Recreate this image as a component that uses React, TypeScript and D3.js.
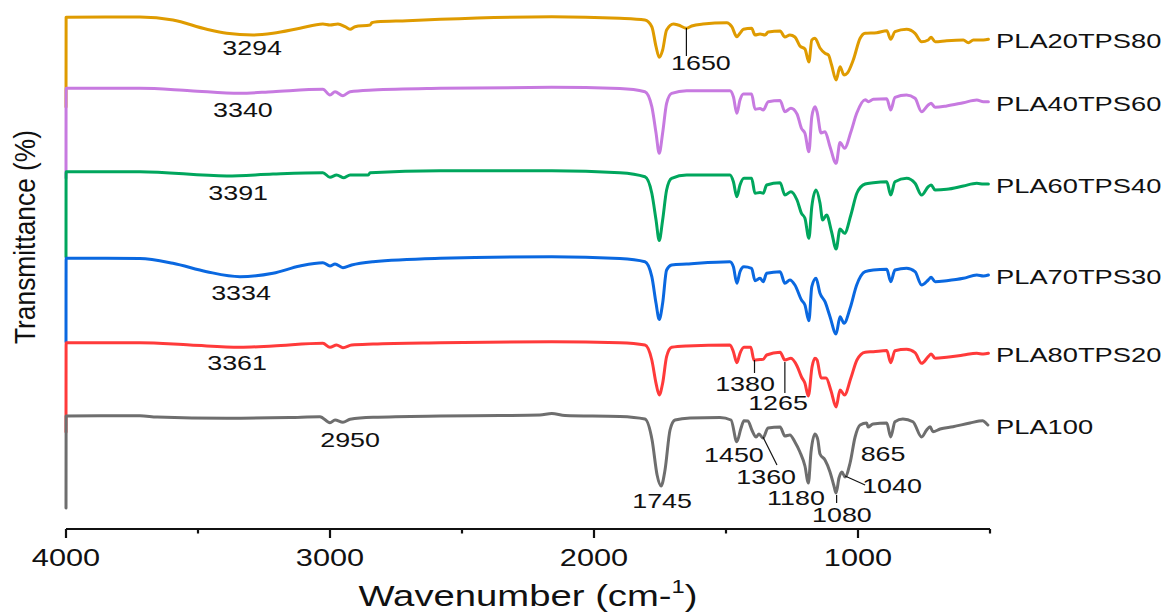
import React from "react";
import * as d3 from "d3";

type Pt = [number, number];

// wavenumber (cm-1), stacked transmittance (offset units)
const pla20tps80: Pt[] = [
  [4000, 401], [3999.6, 490.7], [3850, 491], [3720, 491], [3595, 488], [3467, 478.7], [3391, 474.7],
  [3292, 473], [3216, 474.7], [3114, 479.7], [3027, 484], [3000, 483], [2970, 484],
  [2943, 481.3], [2924, 478.7], [2905, 481.3], [2848, 483], [2841, 485.3], [2822, 486.3],
  [2708, 487.3], [2583, 488.7], [2160, 491.3], [1902, 489.7], [1807, 488], [1781, 481.3],
  [1765, 461.3], [1753, 450.7], [1740, 458], [1725, 478], [1699, 484], [1681, 483],
  [1649, 479.7], [1630, 482], [1587, 484], [1497, 485.3], [1478, 481.3], [1459, 471.3],
  [1447, 474.7], [1434, 478.7], [1403, 479.7], [1390, 473], [1371, 474], [1352, 473],
  [1340, 476], [1295, 477], [1277, 471], [1258, 473], [1239, 471], [1220, 462],
  [1201, 459], [1186, 446], [1175, 468], [1163, 469.7], [1144, 460], [1125, 454.7],
  [1112, 453], [1100, 443], [1083, 428], [1068, 441.3], [1053, 433], [1041, 434.7],
  [1018, 448], [992, 469.7], [973, 474.7], [929, 475.3], [891, 477.3], [876, 468.7],
  [860, 476.3], [816, 478.7], [784, 474.7], [759, 466.3], [734, 468], [723, 470.7],
  [708, 466.3], [664, 467.3], [601, 468], [582, 465.3], [563, 468], [525, 468], [506, 468.7],
];

const pla40tps60: Pt[] = [
  [4000, 330], [3999.6, 419.7], [3720, 419.7], [3530, 417.3], [3341, 414.7], [3216, 416.3],
  [3027, 418.7], [3000, 413], [2981, 416.3], [2951, 412.3], [2924, 416.3], [2837, 418],
  [2583, 419.7], [2160, 420.7], [1902, 419.5], [1807, 416.3], [1781, 401.3], [1765, 375],
  [1753, 354.7], [1740, 375], [1725, 404.7], [1706, 414.7], [1649, 417.3], [1485, 417.3],
  [1472, 411.3], [1459, 394.7], [1447, 408], [1434, 414], [1403, 414], [1390, 398.7],
  [1371, 399.5], [1359, 398], [1340, 406.3], [1295, 407.5], [1277, 396.3], [1254, 399.7],
  [1231, 394], [1214, 379.5], [1201, 374.7], [1186, 356.3], [1175, 391.3], [1163, 401.3],
  [1155, 396], [1140, 375], [1125, 376.3], [1106, 361.3], [1083, 344.7], [1068, 365.5],
  [1051, 359.7], [1027, 376], [1005, 394.7], [973, 408.3], [961, 406.3], [942, 408.7],
  [891, 409.3], [876, 398], [860, 410.7], [816, 413], [784, 409.7], [759, 396.3],
  [734, 403], [723, 404.7], [708, 400.7], [664, 402], [601, 405.3], [550, 408],
  [525, 406.3], [506, 406.3],
];

const pla60tps40: Pt[] = [
  [4000, 251], [3999.6, 336.3], [3720, 336.3], [3391, 332], [3216, 334], [3027, 335.3],
  [3000, 330.7], [2975, 333], [2947, 330.3], [2924, 333], [2855, 333], [2848, 335.3],
  [2583, 337.3], [2160, 337.3], [1902, 335.3], [1807, 331.3], [1781, 314.7], [1765, 288],
  [1753, 267.5], [1740, 288], [1725, 318], [1706, 329.7], [1649, 333], [1485, 333],
  [1472, 326.3], [1459, 311.3], [1447, 323], [1432, 329.7], [1403, 329.7], [1390, 314.7],
  [1371, 315.5], [1359, 314.7], [1346, 323], [1295, 325.3], [1277, 313], [1254, 316.3],
  [1231, 308], [1214, 294.7], [1201, 289.7], [1186, 269.7], [1175, 301.3], [1159, 318],
  [1144, 305], [1134, 288], [1119, 293], [1100, 276], [1083, 259], [1068, 279],
  [1051, 274.7], [1027, 293], [1004, 315], [973, 324], [942, 325.3], [891, 326.3],
  [876, 313], [860, 326.3], [816, 329.7], [784, 324.7], [759, 313], [734, 321.3],
  [723, 323], [708, 318], [664, 318.7], [601, 322], [550, 324.7], [525, 324], [506, 324],
];

const pla70tps30: Pt[] = [
  [4000, 166], [3999.6, 249.7], [3850, 249.7], [3720, 249.5], [3595, 244.7], [3467, 236.3], [3341, 231.3],
  [3216, 234.7], [3114, 242], [3027, 245.3], [3000, 242], [2981, 244], [2951, 240.3],
  [2918, 243], [2837, 246.3], [2583, 249.7], [2160, 251.3], [1902, 249.5], [1807, 246.3],
  [1781, 231.3], [1765, 204.7], [1753, 188.5], [1740, 204.7], [1725, 238], [1706, 243],
  [1649, 244], [1485, 246.3], [1472, 241.3], [1459, 224.7], [1447, 236.3], [1432, 241.3],
  [1403, 239.7], [1390, 227.3], [1371, 229.7], [1359, 226.3], [1346, 234.7], [1295, 236.3],
  [1277, 224.7], [1258, 228], [1239, 223], [1214, 208], [1201, 203], [1186, 187.3],
  [1175, 221.3], [1159, 229.7], [1144, 214.7], [1125, 206.3], [1106, 191.3], [1083, 174],
  [1068, 191.3], [1053, 184.7], [1030, 199.7], [1005, 223], [973, 236.3], [942, 238],
  [891, 238.7], [876, 226.3], [860, 238], [816, 239.7], [784, 236.3], [759, 223],
  [734, 228], [723, 230.7], [708, 226.3], [664, 227.3], [601, 229.7], [550, 233],
  [525, 232], [506, 233],
];

const pla80tps20: Pt[] = [
  [4000, 76], [3999.6, 165.3], [3720, 165.3], [3530, 163], [3341, 160.7], [3216, 162],
  [3027, 164.7], [3000, 160.7], [2975, 163], [2951, 160.3], [2918, 163], [2837, 164],
  [2583, 165.3], [2160, 166.3], [1902, 165.3], [1807, 163], [1781, 148], [1765, 124.7],
  [1753, 113], [1740, 124.7], [1725, 151.3], [1706, 160.7], [1649, 162], [1485, 163],
  [1472, 156.3], [1459, 145.3], [1447, 154.7], [1432, 160.7], [1406, 160.7], [1394, 148],
  [1371, 148.5], [1359, 148.7], [1346, 153], [1295, 155.8], [1277, 148], [1254, 149.7],
  [1231, 142], [1214, 131], [1201, 124.7], [1188, 112], [1174, 141.3], [1163, 149.7],
  [1155, 148], [1140, 130], [1121, 130], [1102, 117], [1083, 101], [1068, 118],
  [1051, 113], [1027, 130], [1004, 148], [973, 155.8], [942, 156.3], [891, 157.5],
  [876, 145.3], [860, 157.3], [816, 158.7], [784, 155.3], [759, 144.7], [734, 151.3],
  [723, 154], [708, 149.7], [664, 150.7], [601, 153], [550, 154.7], [525, 154], [506, 154.7],
];

const pla100: Pt[] = [
  [4000, 0], [3999.6, 92], [3871, 92.3], [3720, 92.2], [3655, 91], [3391, 89.7],
  [3152, 90.5], [3038, 91.3], [3000, 85.3], [2981, 88], [2951, 85.7], [2924, 88.7],
  [2837, 90.7], [2583, 92], [2356, 92.5], [2205, 93], [2160, 94.5], [2110, 92.5],
  [1902, 91.5], [1807, 89], [1780, 68], [1761, 33], [1746, 22], [1731, 38], [1712, 78],
  [1693, 88], [1636, 90], [1523, 90.5], [1481, 88], [1459, 66.3], [1443, 80], [1432, 87.3],
  [1417, 87], [1402, 78], [1386, 71], [1375, 74], [1360, 70], [1341, 80], [1295, 81],
  [1277, 72], [1258, 73], [1239, 66], [1220, 56], [1201, 42], [1188, 25], [1178, 56],
  [1163, 74], [1152, 68], [1144, 54], [1125, 48], [1106, 36], [1091, 22], [1083, 15],
  [1072, 30], [1061, 36], [1049, 31], [1030, 45], [1011, 71], [992, 83], [967, 85],
  [962, 81], [943, 84], [891, 85], [876, 71], [860, 86.3], [830, 89], [792, 86.3],
  [759, 71], [740, 78], [727, 81.3], [716, 76.3], [689, 79], [640, 81.3], [576, 85],
  [527, 87.3], [512, 84], [508, 83],
];

const seriesNames = ["PLA20TPS80", "PLA40TPS60", "PLA60TPS40", "PLA70TPS30", "PLA80TPS20", "PLA100"];
const seriesData = [pla20tps80, pla40tps60, pla60tps40, pla70tps30, pla80tps20, pla100];
const seriesColors = ["#DF9B00", "#C77AE0", "#00A65D", "#0A68E0", "#FF3A3A", "#6E6E6E"];

const majorTicks = [4000, 3000, 2000, 1000];
const minorTicks = [3500, 2500, 1500, 500];

// peak labels: text, anchor wavenumber, anchor offset value
const peakLabels: [string, number, number][] = [
  ["3294", 3295, 461], ["1650", 1595, 445.5], ["3340", 3330, 399], ["3391", 3348, 316],
  ["3334", 3337, 216], ["3361", 3352, 146], ["2950", 2924, 69], ["1380", 1428, 125],
  ["1265", 1303, 106], ["1450", 1470, 54], ["1360", 1348, 32], ["1745", 1742, 8],
  ["1180", 1235, 11], ["1080", 1061, -6], ["1040", 871, 23], ["865", 905, 55],
];

// leader lines: [w1, v1, w2, v2]
const leaders: [number, number, number, number][] = [
  [1650, 480, 1650, 452],
  [1392, 148, 1392, 135],
  [1277, 146, 1277, 115],
  [1360, 71, 1307, 43],
  [1081, 13, 1081, 5],
  [1049, 32, 973, 23],
];

const FONT = "'Liberation Sans', Arial, sans-serif";

const SText = ({ x, y, size, sx = 1.3, anchor = "middle", children }: any) => (
  <text
    transform={`translate(${x},${y}) scale(${sx},1)`}
    textAnchor={anchor}
    fontSize={size}
    fontFamily={FONT}
    fill="#111"
  >
    {children}
  </text>
);

export default function App() {
  const width = 1173;
  const height = 614;

  const x = d3.scaleLinear().domain([4000, 500]).range([66, 990]);
  const y = d3.scaleLinear().domain([0, 500]).range([508, 8]);
  const line = d3
    .line<Pt>()
    .x((d) => x(d[0]))
    .y((d) => y(d[1]))
    .curve(d3.curveMonotoneX);

  const axisY = 529;

  return (
    <svg
      width={width}
      height={height}
      style={{ position: "absolute", left: 0, top: 0, background: "#fff" }}
    >
      {seriesData.map((s, i) => (
        <path
          key={seriesNames[i]}
          d={line(s) || ""}
          fill="none"
          stroke={seriesColors[i]}
          strokeWidth={3}
          strokeLinejoin="round"
          strokeLinecap="round"
        />
      ))}

      {seriesData.map((s, i) => {
        const last = s[s.length - 1];
        return (
          <SText key={"lab" + i} x={996} y={y(last[1]) + 1.5 + 7.5} size={21} anchor="start">
            {seriesNames[i]}
          </SText>
        );
      })}

      {leaders.map((l, i) => (
        <line
          key={"ld" + i}
          x1={x(l[0])}
          y1={y(l[1])}
          x2={x(l[2])}
          y2={y(l[3])}
          stroke="#111"
          strokeWidth={1.2}
        />
      ))}

      {peakLabels.map((p, i) => (
        <SText key={"pk" + i} x={x(p[1])} y={y(p[2]) + 7.5} size={21} sx={1.28}>
          {p[0]}
        </SText>
      ))}

      {/* x axis */}
      <line x1={x(4000)} x2={x(500)} y1={axisY} y2={axisY} stroke="#111" strokeWidth={2.2} />
      {majorTicks.map((t) => (
        <line key={"M" + t} x1={x(t)} x2={x(t)} y1={axisY} y2={axisY + 9} stroke="#111" strokeWidth={2.2} />
      ))}
      {minorTicks.map((t) => (
        <line key={"m" + t} x1={x(t)} x2={x(t)} y1={axisY} y2={axisY + 4.5} stroke="#111" strokeWidth={2.2} />
      ))}
      {majorTicks.map((t) => (
        <SText key={"t" + t} x={x(t)} y={566} size={24} sx={1.28}>
          {t}
        </SText>
      ))}

      <SText x={(x(4000) + x(500)) / 2} y={606} size={29} sx={1.32}>
        Wavenumber (cm-
        <tspan dy={-13} fontSize={18}>
          1
        </tspan>
        <tspan dy={13}>)</tspan>
      </SText>

      <text
        transform={`translate(35,237) rotate(-90) scale(1,1.2)`}
        textAnchor="middle"
        fontSize={25}
        fontFamily={FONT}
        textLength={214}
        lengthAdjust="spacingAndGlyphs"
        fill="#111"
      >
        Transmittance (%)
      </text>
    </svg>
  );
}
